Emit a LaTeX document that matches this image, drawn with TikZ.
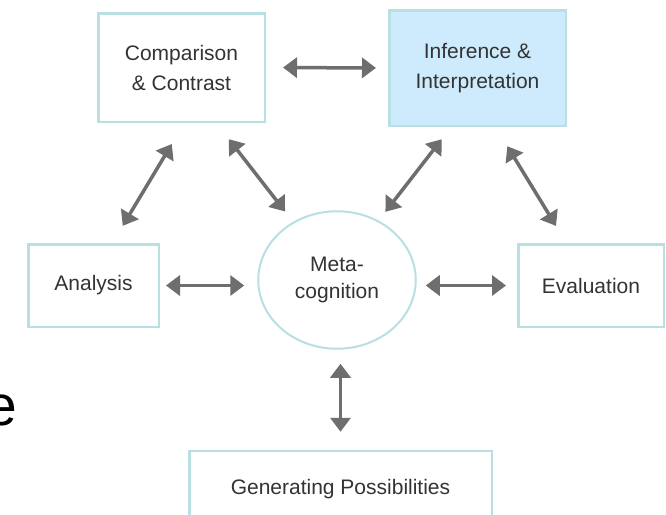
\documentclass[tikz,border=0pt]{standalone}
\usepackage{fontspec}
\setmainfont{Liberation Sans}
\usetikzlibrary{arrows.meta,shapes.geometric}
\definecolor{edgeteal}{HTML}{B8DFE2}
\definecolor{paleblue}{HTML}{CDEBFC}
\definecolor{arrowgray}{HTML}{6E6E6E}
\definecolor{ink}{HTML}{333333}
\begin{document}
\begin{tikzpicture}[x=1pt,y=-1pt,
  box/.style={draw=edgeteal,line width=2.5pt,fill=white,inner sep=0pt,
    align=center,text=ink,font=\fontsize{21}{30}\selectfont},
  metabubble/.style={ellipse,draw=edgeteal,line width=2pt,fill=white,inner sep=0pt,
    align=center,text=ink,font=\fontsize{21}{27}\selectfont},
  biarrow/.style={draw=arrowgray,line width=3.5pt,
    {Triangle[length=14pt,width=20pt]}-{Triangle[length=14pt,width=20pt]}}
]
\clip (0,0) rectangle (666,514);
\fill[white] (0,0) rectangle (666,514);

% thinking-skill boxes around the central bubble
\node[box,minimum width=166.5pt,minimum height=108.5pt] (comp) at (181.5,67.5) {Comparison\\\& Contrast};
\node[box,fill=paleblue,minimum width=176.5pt,minimum height=115.5pt] (infer) at (477.5,68) {Inference \&\\Interpretation};
\node[box,minimum width=130.5pt,minimum height=82.5pt] (anal) at (93.5,285.5) {Analysis};
\node[box,minimum width=145.5pt,minimum height=82.5pt] (eval) at (591,285.5) {Evaluation};
\node[box,minimum width=302.5pt,minimum height=76pt] (gen) at (340.5,489) {Generating Possibilities};
\node[metabubble,minimum width=157.5pt,minimum height=137.5pt] (meta) at (337,280) {Meta-\\cognition};

% letter cut off at the left edge
\node[anchor=base east,inner sep=0pt,font=\fontsize{57}{60}\selectfont] (sidee) at (17,425) {e};

% two-way links
\draw[biarrow,shorten <=17pt,shorten >=12pt] (comp.east) -- (infer.west);
\draw[biarrow,shorten <=6pt,shorten >=13pt] (anal.east) -- (anal.east -| meta.west);
\draw[biarrow,shorten <=9pt,shorten >=11pt] (eval.west -| meta.east) -- (eval.west);
\draw[biarrow,shorten <=14pt,shorten >=18pt] (gen.north |- meta.south) -- (gen.north);
\draw[biarrow,shorten <=20pt,shorten >=24.5pt] (anal.66) -- (comp.-87);
\draw[biarrow,shorten <=20.5pt,shorten >=13pt] (comp.-58) -- (meta.127);
\draw[biarrow,shorten <=11pt,shorten >=15.5pt] (meta.55) -- (infer.-114);
\draw[biarrow,shorten <=22.5pt,shorten >=20pt] (infer.-73) -- (eval.120);
\end{tikzpicture}
\end{document}
